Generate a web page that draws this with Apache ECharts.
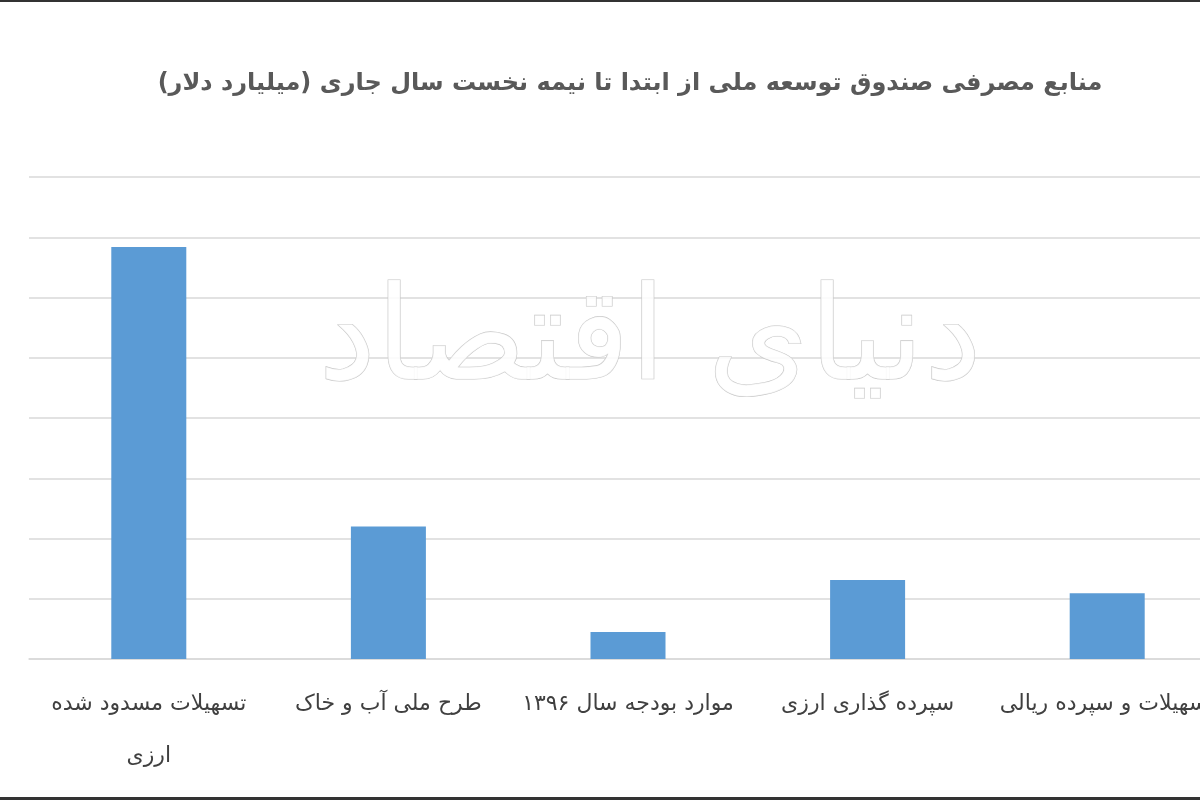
<!DOCTYPE html>
<html>
<head>
<meta charset="utf-8">
<script src="https://cdn.jsdelivr.net/npm/echarts@6/dist/echarts.min.js"></script>
<style>
html,body{margin:0;padding:0;background:#fff;overflow:hidden;width:1200px;height:800px;}
#chart{width:1228px;height:800px;}
</style>
</head>
<body>
<div id="chart" dir="rtl"></div>
<script>
const titleText = 'منابع مصرفی صندوق توسعه ملی از ابتدا تا نیمه نخست سال جاری (میلیارد دلار)';
const categories = [
  'تسهیلات مسدود شده\nارزی',
  'طرح ملی آب و خاک',
  'موارد بودجه سال ۱۳۹۶',
  'سپرده گذاری ارزی',
  'تسهیلات و سپرده ریالی'
];
const values = [6.84, 2.2, 0.45, 1.31, 1.09];
const watermarkText = 'دنیای اقتصاد';

const chart = echarts.init(document.getElementById('chart'), null, {renderer: 'canvas'});
chart.setOption({
  backgroundColor: '#ffffff',
  animation: false,
  title: {
    text: titleText,
    left: 625,
    textAlign: 'center',
    top: 67,
    textStyle: {
      fontFamily: 'DejaVu Sans',
      fontSize: 24,
      fontWeight: 'bold',
      color: '#595959'
    }
  },
  grid: {left: 29, top: 177, width: 1198, height: 482, containLabel: false},
  xAxis: {
    type: 'category',
    data: categories,
    axisLine: {show: true, lineStyle: {color: '#d9d9d9', width: 1.5}},
    axisTick: {show: false},
    axisLabel: {
      interval: 0,
      hideOverlap: false,
      margin: 19,
      fontFamily: 'DejaVu Sans',
      fontSize: 22,
      lineHeight: 52,
      color: '#404040'
    }
  },
  yAxis: {
    type: 'value',
    min: 0,
    max: 8,
    interval: 1,
    axisLabel: {show: false},
    axisLine: {show: false},
    axisTick: {show: false},
    splitLine: {show: true, lineStyle: {color: '#d9d9d9', width: 1.5}}
  },
  series: [{
    type: 'bar',
    data: values,
    barWidth: 75,
    itemStyle: {color: '#5b9bd5'},
    z: 3
  }],
  graphic: [
    {
      type: 'text',
      x: 650, y: 345,
      z: 1,
      style: {
        text: watermarkText,
        align: 'center',
        verticalAlign: 'middle',
        fontFamily: 'DejaVu Sans',
        fontSize: 130,
        fill: 'rgba(255,255,255,0.85)',
        stroke: '#c8c8c8',
        lineWidth: 1.2
      }
    },
    {type: 'rect', shape: {x: 0, y: 0, width: 1228, height: 2}, style: {fill: '#333333'}, z: 10},
    {type: 'rect', shape: {x: 0, y: 797, width: 1228, height: 3}, style: {fill: '#333333'}, z: 10}
  ]
});
</script>
</body>
</html>
